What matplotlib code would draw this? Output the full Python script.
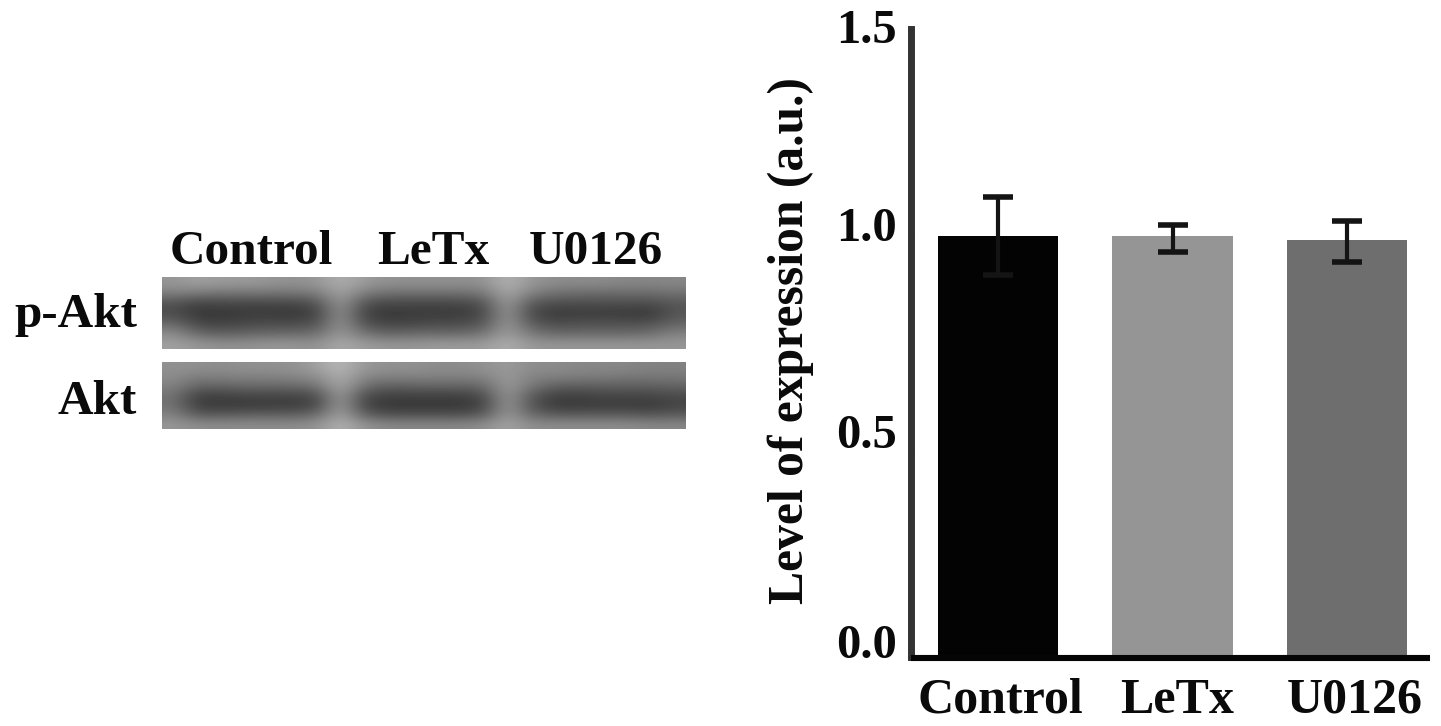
import matplotlib
matplotlib.use("Agg")
import matplotlib.pyplot as plt
from matplotlib.transforms import ScaledTranslation

categories = ["Control", "LeTx", "U0126"]
values = [1.005, 1.005, 0.995]
err_low = [0.093, 0.038, 0.052]
err_high = [0.093, 0.028, 0.046]
bar_colors = ["#030303", "#959595", "#6e6e6e"]
y_ticks = [0.0, 0.5, 1.0, 1.5]

blot_lanes = ["Control", "LeTx", "U0126"]
blot_rows = ["p-Akt", "Akt"]
# Band intensities read from the blot (grey levels, 0-255)
blot_pakt = [
    [150,160,155,155,150,145,150,175,155,145,145,145,145,145,180,150,140,140,140,135,135,135],
    [130,125,120,120,120,120,125,165,125,115,115,115,115,120,170,130,115,110,110,110,110,115],
    [ 85, 68, 72, 72, 72, 72, 82,155, 82, 72, 72, 72, 72, 82,160, 88, 78, 78, 78, 78, 78, 88],
    [ 75, 55, 55, 58, 58, 55, 65,150, 65, 55, 58, 58, 58, 70,155, 72, 58, 60, 60, 58, 55, 85],
    [105, 70, 66, 72, 75, 75, 80,150, 80, 68, 70, 75, 75, 85,155, 90, 75, 80, 80, 80, 80,100],
    [140,105, 95,100,105,105,110,155,115,100,105,105,105,115,160,120,105,105,105,105,110,130],
    [160,150,145,145,150,150,145,170,155,150,150,155,155,155,175,150,150,150,150,150,150,150],
]
blot_akt = [
    [145,145,140,145,145,145,160,185,150,145,145,140,140,145,155,140,140,135,135,135,130,130],
    [140,125,130,130,130,135,140,175,135,130,130,130,130,130,155,130,130,125,125,120,120,120],
    [130,100,100,105,105,105,115,170,110, 95,100,100,100,105,155,120, 95, 95, 95, 95, 95,100],
    [115, 65, 65, 70, 70, 70, 75,160, 75, 65, 65, 65, 65, 75,155, 90, 65, 65, 70, 70, 70, 75],
    [115, 60, 58, 58, 60, 60, 70,160, 68, 55, 55, 55, 55, 65,155, 85, 58, 58, 60, 60, 58, 68],
    [130, 90, 90, 95, 95, 95,105,165, 95, 80, 80, 80, 80, 90,155,105, 90, 90, 90, 90, 85, 90],
    [150,140,140,140,140,140,145,180,145,135,135,135,135,140,165,140,140,140,140,140,135,135],
]

W, H = 1441, 726
serif = ["Liberation Serif", "DejaVu Serif"]
fig = plt.figure(figsize=(W / 100, H / 100), dpi=100, facecolor="white")


def axes_px(x0, y0, x1, y1, **kw):
    return fig.add_axes([x0 / W, 1 - y1 / H, (x1 - x0) / W, (y1 - y0) / H], **kw)


def put(x, y, s, size=35.5, **kw):
    fig.text(x / W, 1 - y / H, s, fontsize=size, family=serif, fontweight="bold",
             color="#0a0a0a", va="baseline", **kw)


# Blot panels
for box, data in (((162, 277, 686, 349), blot_pakt), ((162, 362, 686, 429), blot_akt)):
    a = axes_px(*box)
    a.imshow(data, cmap="gray", vmin=0, vmax=255, aspect="auto", interpolation="bicubic")
    a.axis("off")

for x, s in zip((251, 433.5, 596), blot_lanes):
    put(x, 264.5, s, ha="center")
for y, s in zip((327, 414), blot_rows):
    put(137, y, s, ha="right")

# Bar chart
ax = axes_px(911, 29, 1430, 657)
ax.spines["bottom"].set_position(("outward", 0.8))
pos = list(range(len(categories)))
ax.bar(pos, values, width=0.688, color=bar_colors, zorder=2)
ax.errorbar(pos, values, yerr=[err_low, err_high], fmt="none", ecolor="#141414",
            elinewidth=3, capsize=11, capthick=4, zorder=3)
ax.set_xlim(-0.499, 2.476)
ax.set_ylim(0, 1.5)
ax.set_yticks(y_ticks, [f"{v:.1f}" for v in y_ticks], fontsize=35, family=serif,
              fontweight="bold", color="#0a0a0a")
ax.set_xticks(pos, categories, fontsize=36, family=serif, fontweight="bold", color="#0a0a0a")
ax.tick_params(axis="y", length=5, width=2, direction="inout", pad=7.5, color="#050505")
ax.tick_params(axis="x", length=0, pad=14)
for label, dx in zip(ax.get_xticklabels(), (2, 5, 8)):
    label.set_transform(label.get_transform() + ScaledTranslation(dx / 100, 0, fig.dpi_scale_trans))
for label, dy in zip(ax.get_yticklabels(), (16, 17, 14, 3)):
    label.set_transform(label.get_transform() + ScaledTranslation(0, dy / 100, fig.dpi_scale_trans))
for side in ("top", "right"):
    ax.spines[side].set_visible(False)
ax.spines["left"].set_linewidth(5)
ax.spines["left"].set_color("#333333")
ax.spines["bottom"].set_linewidth(4.4)
ax.spines["bottom"].set_color("#050505")
ax.spines["bottom"].set_capstyle("butt")
ax.patch.set_alpha(0)

fig.text(791 / W, 1 - 341 / H, "Level of expression (a.u.)", rotation=90, ha="center", va="center",
         fontsize=35.7, family=serif, fontweight="bold", color="#0a0a0a")

fig.savefig("out.png", dpi=100, facecolor="white")
